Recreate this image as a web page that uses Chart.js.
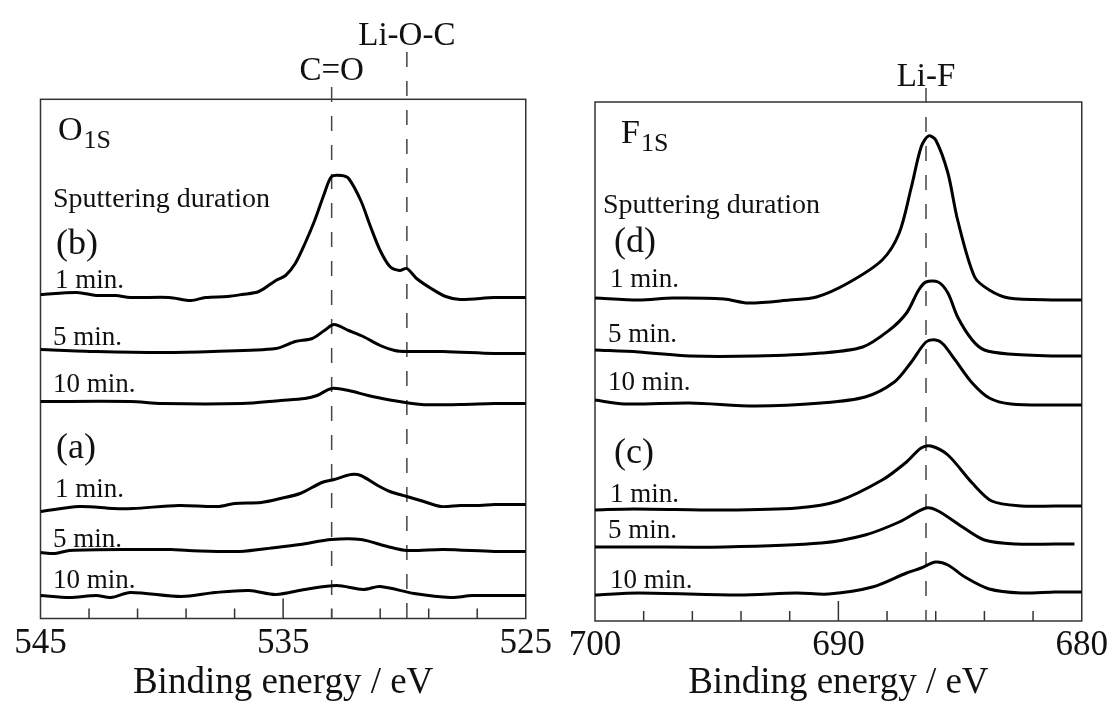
<!DOCTYPE html>
<html lang="en">
<head>
<meta charset="UTF-8">
<title>O1s / F1s depth profile</title>
<script src="https://cdn.jsdelivr.net/npm/chart.js"></script>
<style>
    body { margin: 0; background: #fff; width: 1112px; height: 702px; overflow: hidden; position: relative; }
    .panel { position: absolute; top: 0; width: 556px; height: 702px; }
    #leftPanel { left: 0; }
    #rightPanel { left: 556px; }
</style>
</head>
<body>
<div id="leftPanel" class="panel"><canvas id="o1sCanvas" width="556" height="702"></canvas></div>
<div id="rightPanel" class="panel"><canvas id="f1sCanvas" width="556" height="702"></canvas></div>

<script>
// ---- O1s panel: binding energy (eV) and stacked intensity (a.u.) ----
const o1sTicks = [545, 543, 541, 539, 537, 535, 533, 531, 529, 527, 525];
const o1sTickLabels = [545, 535, 525];
const o1sMarkers = [533, 529.9];
const o1sMarkerNames = ['C=O', 'Li-O-C'];

// (b) sample
const b1Energy = [545, 543.5, 542.7, 541.9, 541.3, 539.7, 538.8, 538.2, 537.3, 536.7, 536.0, 535.3, 534.9, 534.5, 534.1, 533.7, 533.3, 533.0, 532.6, 532.3, 531.8, 531.4, 531.0, 530.6, 530.2, 529.9, 529.5, 528.9, 528.3, 527.7, 526.3, 525];
const b1Counts = [324, 326, 323, 323, 321, 321, 318, 321, 322, 324, 327, 338, 343, 355, 375, 398, 425, 442, 443, 440, 418, 392, 368, 352, 348, 350, 340, 330, 322, 319, 321, 321];
const b5Energy = [545, 542.7, 540.0, 537.9, 535.3, 534.5, 533.8, 533.3, 532.9, 532.3, 531.7, 531.0, 530.4, 529.9, 528.4, 526.3, 525];
const b5Counts = [269, 267, 266, 267, 270, 277, 280, 288, 294, 288, 282, 273, 268, 267, 267, 265, 265];
const b10Energy = [545, 541.3, 540.0, 536.7, 535.1, 534.1, 533.6, 533.0, 532.3, 531.5, 530.7, 529.3, 527.7, 526.3, 525];
const b10Counts = [217, 217, 215, 215, 218, 220, 223, 230, 228, 223, 219, 214, 214, 215, 215];
// (a) sample
const a1Energy = [545, 543.4, 542.0, 541.2, 539.3, 537.7, 537.0, 535.9, 535.1, 534.3, 533.4, 532.9, 532.2, 531.8, 531.1, 530.6, 529.9, 529.2, 528.5, 527.7, 526.9, 526.3, 525];
const a1Counts = [107, 112, 110, 110, 113, 112, 115, 116, 120, 125, 136, 139, 144, 143, 133, 127, 122, 117, 112, 113, 113, 114, 114];
const a5Energy = [545, 544.4, 543.8, 540.9, 539.6, 538.9, 536.8, 535.3, 534.3, 533.0, 531.8, 530.7, 529.9, 528.4, 526.3, 525];
const a5Counts = [66, 65, 68, 69, 69, 68, 67, 71, 74, 79, 79, 72, 68, 69, 67, 67];
const a10Energy = [545, 543.8, 542.7, 542.1, 541.3, 539.2, 537.8, 536.4, 535.3, 534.1, 532.8, 531.7, 531.0, 529.6, 528.1, 527.2, 526.3, 525];
const a10Counts = [23, 21, 23, 21, 26, 22, 26, 28, 24, 29, 33, 29, 32, 25, 21, 23, 23, 23];

// ---- F1s panel ----
const f1sTicks = [700, 698, 696, 694, 692, 690, 688, 686, 684, 682, 680];
const f1sTickLabels = [700, 690, 680];
const f1sMarkers = [686.4];
const f1sMarkerNames = ['Li-F'];

// (d) sample
const d1Energy = [700, 698.2, 696.8, 694.7, 693.7, 692.0, 690.9, 689.6, 688.2, 687.5, 687.0, 686.6, 686.3, 686.0, 685.5, 685.1, 684.4, 683.8, 683.0, 681.1, 680];
const d1Counts = [323, 321, 323, 322, 318, 321, 324, 338, 361, 388, 434, 474, 485, 481, 448, 401, 344, 331, 323, 321, 321];
const d5Energy = [700, 698.2, 696.1, 693.4, 690.7, 689.0, 687.9, 687.2, 686.7, 686.4, 685.9, 685.5, 685.1, 684.5, 684.0, 683.0, 681.1, 680];
const d5Counts = [271, 269, 265, 265, 268, 274, 291, 308, 331, 339, 339, 328, 304, 281, 271, 267, 265, 265];
const d10Energy = [700, 698.8, 696.1, 693.4, 690.7, 688.9, 687.7, 687.0, 686.4, 686.0, 685.7, 685.2, 684.5, 683.8, 682.9, 681.1, 680];
const d10Counts = [221, 217, 218, 215, 218, 224, 239, 259, 279, 281, 277, 261, 238, 223, 217, 216, 216];
// (c) sample
const c1Energy = [700, 698.4, 694.7, 691.7, 690.0, 688.2, 687.2, 686.6, 686.2, 685.5, 684.5, 683.7, 682.5, 681.1, 680];
const c1Counts = [111, 112, 111, 113, 120, 141, 159, 173, 175, 166, 138, 120, 115, 115, 115];
const c5Energy = [700, 698.2, 694.7, 690.7, 688.9, 687.5, 686.4, 685.9, 684.9, 684.0, 682.7, 681.1, 680.3];
const c5Counts = [74, 74, 74, 78, 86, 99, 113, 110, 94, 81, 77, 77, 77];
const c10Energy = [700, 698.2, 694.1, 691.7, 690.4, 688.6, 687.2, 686.6, 686.0, 685.5, 684.8, 683.8, 682.5, 681.1, 680];
const c10Counts = [26, 28, 26, 28, 27, 34, 48, 53, 59, 56, 44, 32, 28, 29, 29];

const SERIF = '"Liberation Serif", "Times New Roman", serif';

function toPoints(energy, counts) {
    return energy.map((e, i) => ({ x: e, y: counts[i] }));
}

function curve(label, energy, counts) {
    return {
        label: label,
        data: toPoints(energy, counts),
        borderColor: '#000',
        borderWidth: 3,
        pointRadius: 0,
        fill: false,
        tension: 0.3
    };
}

// frame, inward ticks, dashed peak lines and all the in-plot text
const decorPlugin = {
    id: 'decor',
    beforeDatasetsDraw(chart, args, opts) {
        const ctx = chart.ctx, area = chart.chartArea, xs = chart.scales.x;
        ctx.save();
        ctx.strokeStyle = '#333';
        ctx.lineWidth = 1.5;
        ctx.strokeRect(area.left, area.top, area.right - area.left, area.bottom - area.top);
        xs.ticks.forEach(t => {
            if (t.value === xs.min || t.value === xs.max) return;
            const px = xs.getPixelForValue(t.value);
            const len = t.value === opts.majorTick ? 20 : 10;
            ctx.beginPath();
            ctx.moveTo(px, area.bottom);
            ctx.lineTo(px, area.bottom - len);
            ctx.stroke();
        });
        ctx.setLineDash([15, 14]);
        ctx.strokeStyle = '#444';
        opts.markers.forEach((m, i) => {
            const px = xs.getPixelForValue(m);
            ctx.beginPath();
            ctx.moveTo(px, opts.markerLineTop[i]);
            ctx.lineTo(px, area.bottom);
            ctx.stroke();
        });
        ctx.restore();
    },
    afterDraw(chart, args, opts) {
        const ctx = chart.ctx, xs = chart.scales.x;
        ctx.save();
        ctx.fillStyle = '#111';
        ctx.textBaseline = 'alphabetic';
        // peak names above the dashed lines
        ctx.textAlign = 'center';
        ctx.font = '33px ' + SERIF;
        opts.markers.forEach((m, i) => {
            ctx.fillText(opts.markerNames[i], xs.getPixelForValue(m), opts.markerLabelY[i]);
        });
        // core level with subscript
        ctx.textAlign = 'left';
        ctx.font = '34px ' + SERIF;
        ctx.fillText(opts.core.main, opts.core.x, opts.core.y);
        const w = ctx.measureText(opts.core.main).width;
        ctx.font = '26px ' + SERIF;
        ctx.fillText('1S', opts.core.x + w + 1, opts.core.y + 8);
        opts.texts.forEach(t => {
            ctx.font = t.size + 'px ' + SERIF;
            ctx.fillText(t.text, t.x, t.y);
        });
        ctx.restore();
    }
};

function makeChart(canvasId, datasets, cfg) {
    return new Chart(document.getElementById(canvasId).getContext('2d'), {
        type: 'line',
        data: { datasets: datasets },
        options: {
            responsive: false,
            animation: false,
            layout: { padding: cfg.padding },
            plugins: {
                legend: { display: false },
                tooltip: { enabled: false },
                decor: cfg.decor
            },
            scales: {
                x: {
                    type: 'linear',
                    reverse: true,
                    min: cfg.min,
                    max: cfg.max,
                    afterBuildTicks: scale => { scale.ticks = cfg.ticks.map(v => ({ value: v })); },
                    afterFit: scale => { scale.height = cfg.axisHeight; },
                    grid: { display: false, drawTicks: false },
                    border: { display: false },
                    ticks: {
                        autoSkip: false,
                        maxRotation: 0,
                        padding: 4,
                        color: '#111',
                        font: { family: SERIF, size: 35 },
                        callback: v => cfg.tickLabels.includes(v) ? String(v) : ''
                    },
                    title: {
                        display: true,
                        text: 'Binding energy / eV',
                        color: '#111',
                        font: { family: SERIF, size: 37 },
                        padding: { top: 0, bottom: -3 }
                    }
                },
                y: { display: false, min: 0, max: cfg.yMax }
            }
        },
        plugins: [decorPlugin]
    });
}

makeChart('o1sCanvas', [
    curve('(b) 1 min.', b1Energy, b1Counts),
    curve('(b) 5 min.', b5Energy, b5Counts),
    curve('(b) 10 min.', b10Energy, b10Counts),
    curve('(a) 1 min.', a1Energy, a1Counts),
    curve('(a) 5 min.', a5Energy, a5Counts),
    curve('(a) 10 min.', a10Energy, a10Counts)
], {
    min: 525, max: 545, ticks: o1sTicks, tickLabels: o1sTickLabels,
    padding: { left: 40.5, right: 26.5, top: 99.3, bottom: 0 },
    axisHeight: 83.5, yMax: 519.2,
    decor: {
        majorTick: 535,
        markers: o1sMarkers, markerNames: o1sMarkerNames,
        markerLabelY: [80, 45], markerLineTop: [87, 52],
        core: { main: 'O', x: 58, y: 140 },
        texts: [
            { text: 'Sputtering duration', x: 53, y: 207, size: 28 },
            { text: '(b)', x: 56, y: 254, size: 36 },
            { text: '1 min.', x: 55, y: 288, size: 27 },
            { text: '5 min.', x: 53, y: 345, size: 27 },
            { text: '10 min.', x: 53, y: 392, size: 27 },
            { text: '(a)', x: 56, y: 458, size: 36 },
            { text: '1 min.', x: 55, y: 497, size: 27 },
            { text: '5 min.', x: 53, y: 547, size: 27 },
            { text: '10 min.', x: 53, y: 588, size: 27 }
        ]
    }
});

makeChart('f1sCanvas', [
    curve('(d) 1 min.', d1Energy, d1Counts),
    curve('(d) 5 min.', d5Energy, d5Counts),
    curve('(d) 10 min.', d10Energy, d10Counts),
    curve('(c) 1 min.', c1Energy, c1Counts),
    curve('(c) 5 min.', c5Energy, c5Counts),
    curve('(c) 10 min.', c10Energy, c10Counts)
], {
    min: 680, max: 700, ticks: f1sTicks, tickLabels: f1sTickLabels,
    padding: { left: 39, right: 28, top: 102, bottom: 0 },
    axisHeight: 81, yMax: 519,
    decor: {
        majorTick: 690,
        markers: f1sMarkers, markerNames: f1sMarkerNames,
        markerLabelY: [86], markerLineTop: [88],
        core: { main: 'F', x: 65, y: 143 },
        texts: [
            { text: 'Sputtering duration', x: 47, y: 213, size: 28 },
            { text: '(d)', x: 58, y: 252, size: 36 },
            { text: '1 min.', x: 54, y: 287, size: 27 },
            { text: '5 min.', x: 52, y: 342, size: 27 },
            { text: '10 min.', x: 52, y: 390, size: 27 },
            { text: '(c)', x: 58, y: 463, size: 36 },
            { text: '1 min.', x: 54, y: 502, size: 27 },
            { text: '5 min.', x: 52, y: 538, size: 27 },
            { text: '10 min.', x: 54, y: 588, size: 27 }
        ]
    }
});
</script>
</body>
</html>
